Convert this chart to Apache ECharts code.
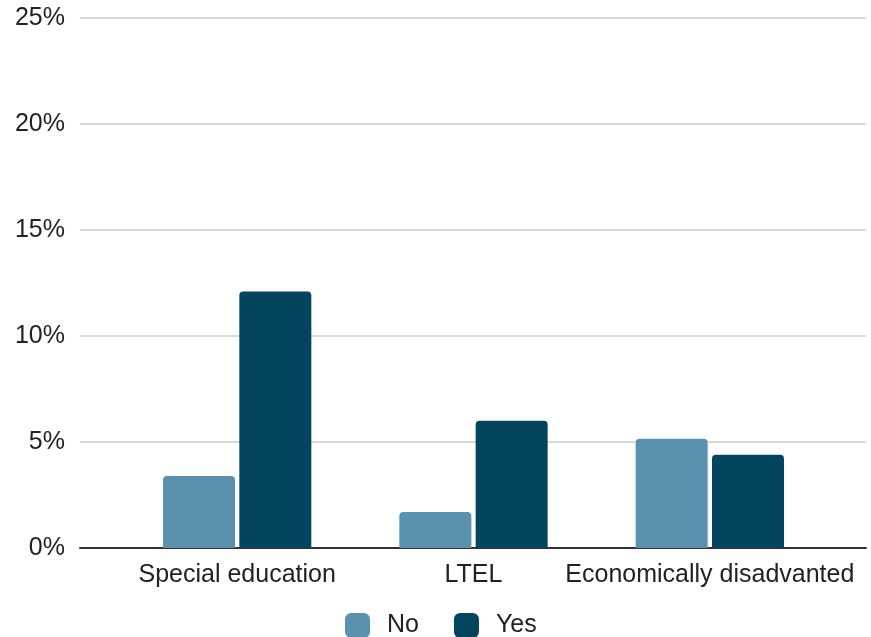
<!DOCTYPE html>
<html>
<head>
<meta charset="utf-8">
<script src="https://cdn.jsdelivr.net/npm/echarts@6/dist/echarts.min.js"></script>
<style>html,body{margin:0;padding:0;background:#fff}#c{width:871px;height:637px}</style>
</head>
<body>
<div id="c"></div>
<script>
const categories = ['Special education', 'LTEL', 'Economically disadvanted'];
const seriesNames = ['No', 'Yes'];
const noValues = [3.4, 1.7, 5.15];
const yesValues = [12.1, 6.0, 4.4];
const yTicks = [0, 5, 10, 15, 20, 25];

const chart = echarts.init(document.getElementById('c'));
const font = 'Arial, "Liberation Sans", sans-serif';
chart.setOption({
  animation: false,
  backgroundColor: '#ffffff',
  color: ['#5a91ae', '#03445f'],
  legend: {
    data: seriesNames,
    top: 613,
    left: 345,
    padding: 0,
    itemWidth: 25,
    itemHeight: 25,
    itemGap: 35,
    icon: 'roundRect',
    textStyle: { fontSize: 25, color: '#222', fontFamily: font, padding: [2, 0, 0, 12] }
  },
  grid: [
    { left: 80, right: 5, top: 18, bottom: 89, containLabel: false },
    { left: 119, right: 43, top: 18, bottom: 89, containLabel: false }
  ],
  xAxis: [
    { gridIndex: 0, type: 'category', data: categories.map(() => ''), axisLine: { lineStyle: { color: '#333', width: 2 } },
      axisTick: { show: false }, axisLabel: { show: false } },
    { gridIndex: 1, type: 'category', data: categories, axisLine: { show: false }, axisTick: { show: false },
      axisLabel: { interval: 0, fontSize: 25, color: '#222', fontFamily: font, margin: 15 } }
  ],
  yAxis: [
    { gridIndex: 0, type: 'value', min: yTicks[0], max: yTicks[yTicks.length - 1], interval: 5,
      axisLine: { show: false }, axisTick: { show: false },
      splitLine: { lineStyle: { color: '#cccccc', width: 1.5 } },
      axisLabel: { fontSize: 25, color: '#222', fontFamily: font, margin: 15, padding: [3, 0, 0, 0], formatter: '{value}%' } },
    { gridIndex: 1, type: 'value', min: yTicks[0], max: yTicks[yTicks.length - 1], interval: 5, show: false,
      splitLine: { show: false } }
  ],
  series: [
    { name: seriesNames[0], type: 'bar', xAxisIndex: 1, yAxisIndex: 1, data: noValues,
      barWidth: 72, barGap: '6%', itemStyle: { borderRadius: [4, 4, 0, 0] } },
    { name: seriesNames[1], type: 'bar', xAxisIndex: 1, yAxisIndex: 1, data: yesValues,
      barWidth: 72, barGap: '6%', itemStyle: { borderRadius: [4, 4, 0, 0] } }
  ]
});
</script>
</body>
</html>
